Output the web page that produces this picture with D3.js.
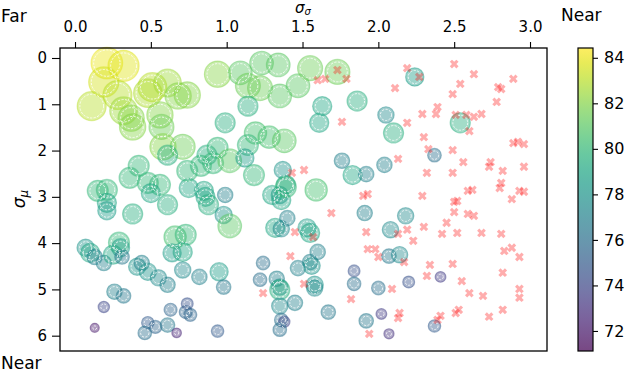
<!DOCTYPE html>
<html>
<head>
<meta charset="utf-8">
<script src="https://cdn.jsdelivr.net/npm/d3@7"></script>
<style>
body{margin:0;background:#fff}
text{font-family:"DejaVu Sans",sans-serif;fill:#000}
</style>
</head>
<body>
<div id="chart"></div>
<script>
// circles: sigma_sigma (x), sigma_mu (y), value (colour + size)
var circX = [0.21,0.32,0.19,0.28,0.11,0.51,0.61,0.48,0.68,0.74,0.32,0.37,0.38,0.56,0.57,0.58,0.71,0.61,0.42,0.36,0.48,0.15,0.21,0.56,0.50,
  0.94,1.09,1.23,1.34,1.14,1.22,1.35,1.47,1.55,1.73,1.14,0.99,1.19,1.28,1.38,1.14,0.87,0.94,0.83,0.91,1.02,1.12,1.18,1.37,1.39,1.35,0.85,0.75,0.99,0.74,1.59,
  1.63,1.61,1.86,2.05,2.10,2.24,1.76,1.83,1.92,2.04,2.54,2.37,
  0.21,0.21,0.38,0.61,0.07,0.10,0.13,0.19,0.25,0.29,0.30,0.31,0.41,0.44,0.48,0.55,0.61,0.66,0.64,0.71,0.73,0.71,0.26,0.32,0.19,0.13,0.48,0.53,0.61,0.46,0.63,0.67,0.73,0.74,0.76,0.82,0.95,0.98,0.94,
  0.86,0.88,0.98,1.02,1.30,1.36,1.39,1.32,1.36,1.40,1.53,1.55,1.24,1.22,1.33,1.35,1.35,1.35,1.45,1.36,1.38,1.35,1.47,1.55,1.56,1.60,1.58,1.58,
  1.91,2.18,2.08,1.84,1.84,2.00,2.07,2.14,2.20,1.67,1.92,2.02,2.07,2.41,2.37]
var circY = [0.11,0.17,0.52,0.80,1.04,0.63,0.54,0.76,0.82,0.80,1.14,1.30,1.49,1.23,1.49,1.92,1.92,2.10,2.33,2.59,2.70,2.87,2.85,2.74,2.92,
  0.35,0.32,0.11,0.15,0.60,0.65,0.82,0.60,0.22,0.30,1.04,1.40,1.62,1.71,1.79,1.88,2.10,1.94,2.33,2.27,2.22,2.16,2.53,2.42,2.74,2.96,2.87,2.81,2.96,2.44,2.85,
  1.04,1.40,0.93,1.23,1.62,0.41,2.22,2.53,2.51,2.31,1.40,2.10,
  3.13,3.30,3.37,3.17,4.10,4.21,4.30,4.43,4.25,3.99,4.10,4.30,4.51,4.43,4.62,4.75,4.90,3.87,4.21,4.58,3.82,4.19,5.05,5.14,5.38,5.83,5.72,5.81,5.77,5.94,5.44,5.94,5.49,5.31,5.55,4.73,4.62,4.95,5.90,
  3.00,3.17,3.39,3.63,2.96,3.07,2.79,3.67,3.69,3.46,3.67,3.78,4.43,4.79,4.77,4.95,5.01,5.36,5.29,5.66,5.70,5.87,4.54,4.41,4.49,4.19,4.90,4.97,
  3.35,3.41,3.71,4.60,4.88,4.97,4.28,4.25,4.84,5.49,5.68,5.53,5.96,4.73,5.79]
var circV = [84,83.8,83.5,83,83,83,82.5,82.8,82,82,82.5,82,82,82,81.5,82,81.5,79.5,80,80,80,80,80,80,79,
  82,81,81,81,81.5,81.5,81,81,81.5,81.5,79.5,79.5,80.5,80.5,81,80,79.5,80,80,80,81,78.5,80,78,79,78,79,79,77,80,80.5,
  79,79,79.5,77.5,79.5,78.5,77,79,77,77,79.5,76,
  79,78.5,79.5,79.5,78,79,77,77,79,80,78.5,76.5,78,77,78,77.5,77,80.5,78.5,77.5,80,79,77,76.5,74,72,75,75.5,76.5,76,75.5,72.5,75.5,74.5,75.5,77,78.5,76.5,75,
  79,79.5,78,81,79,79,80,79,77.5,77,78.5,79,76,76,77,77.5,79.5,77.5,77,76,74,76,77,77,78,77,78,77.5,
  77,77.5,77.5,74.5,76,76,76.5,77.5,74.5,76.5,76.5,73.5,73,73.5,75]

// red crosses
var crossX = [1.60,1.65,1.73,1.79,1.76,1.43,1.51,2.19,2.27,2.11,2.50,2.63,2.54,2.49,2.79,2.81,2.89,2.78,2.39,2.38,2.29,2.51,2.58,2.63,2.68,2.60,2.30,2.33,2.49,2.19,
  2.56,2.74,2.73,2.82,2.89,2.92,2.96,2.96,2.13,2.32,2.49,1.90,1.93,2.29,1.69,2.50,2.52,2.59,2.62,2.81,2.80,2.88,2.93,2.96,2.50,2.59,2.63,2.45,2.30,2.42,
  2.52,2.68,2.81,1.92,2.19,2.23,2.13,1.93,1.98,2.00,2.17,2.34,2.49,2.32,2.55,2.60,2.69,2.83,2.88,2.93,2.82,2.93,2.93,1.82,2.09,2.14,2.13,2.41,2.39,2.53,
  2.51,2.73,2.82,1.94,1.45,1.57,1.42,1.24,1.51]
var crossY = [0.48,0.45,0.26,0.45,1.38,2.48,2.42,0.22,0.41,0.65,0.13,0.35,0.56,0.78,0.63,0.67,0.45,0.95,1.06,1.21,1.21,1.23,1.23,1.27,1.21,1.58,1.71,1.97,1.99,1.40,
  2.25,2.25,2.35,2.44,1.84,1.81,1.86,2.35,2.18,2.48,2.48,2.98,2.94,2.98,3.35,3.11,3.09,2.87,2.85,2.70,2.81,3.05,2.87,2.89,3.33,3.37,3.41,3.56,3.65,3.80,
  3.78,3.78,3.80,3.76,3.71,3.95,3.80,4.13,4.13,4.30,4.41,4.47,4.45,4.71,4.82,5.08,5.14,4.17,4.10,4.30,4.64,4.99,5.18,5.21,4.99,5.51,5.62,5.57,5.66,5.44,
  5.51,5.59,5.44,5.96,3.76,3.87,4.28,5.08,4.88]

var xTicks = [0,0.5,1,1.5,2,2.5,3]
var yTicks = [0,1,2,3,4,5,6]
var cTicks = [72,74,76,78,80,82,84]

var width = 628
var height = 374
var margin = {top:48,right:81,bottom:23,left:60}

var svg = d3.select('#chart')
			.append('svg')
			.attr('width',width)
			.attr('height',height)

var x = d3.scaleLinear().domain([-0.099,3.112]).range([margin.left,width-margin.right])
var y = d3.scaleLinear().domain([-0.216,6.331]).range([margin.top,height-margin.bottom])
var color = d3.scaleSequential(d3.interpolateViridis).domain([71.12,84.43])
var radius = d3.scaleLinear().domain([72,76,80,84]).range([4.5,6.8,10.5,15.8])

var pts = circX.map(function(d,i){ return {x:d, y:circY[i], v:circV[i]} })
var crosses = crossX.map(function(d,i){ return {x:d, y:crossY[i]} })

var plot = svg.append('g')

plot.selectAll('circle.dot')
	.data(pts)
	.enter()
	.append('circle')
	.attr('class','dot')
	.attr('cx',function(d){ return x(d.x) })
	.attr('cy',function(d){ return y(d.y) })
	.attr('r',function(d){ return radius(d.v) })
	.attr('fill',function(d){ return color(d.v) })
	.attr('fill-opacity',0.43)
	.attr('stroke',function(d){ return color(d.v) })
	.attr('stroke-opacity',0.45)
	.attr('stroke-width',1.2)

// white dashed inner rings
plot.selectAll('circle.ring')
	.data(pts)
	.enter()
	.append('circle')
	.attr('class','ring')
	.attr('cx',function(d){ return x(d.x) })
	.attr('cy',function(d){ return y(d.y) })
	.attr('r',function(d){ return Math.max(radius(d.v)-2.6,1.5) })
	.attr('fill','none')
	.attr('stroke','#fff')
	.attr('stroke-opacity',0.9)
	.attr('stroke-width',0.9)
	.attr('stroke-dasharray','2.2,1.4')

plot.selectAll('path.cross')
	.data(crosses)
	.enter()
	.append('path')
	.attr('class','cross')
	.attr('d',d3.symbol().type(d3.symbolCross).size(48))
	.attr('transform',function(d){ return 'translate('+x(d.x)+','+y(d.y)+') rotate(45)' })
	.attr('fill','#ff0000')
	.attr('fill-opacity',0.32)

// frame
svg.append('rect')
	.attr('x',margin.left)
	.attr('y',margin.top)
	.attr('width',width-margin.right-margin.left)
	.attr('height',height-margin.bottom-margin.top)
	.attr('fill','none')
	.attr('stroke','#000')
	.attr('stroke-width',1.3)

var xAxis = svg.append('g')
	.attr('transform','translate(0,'+margin.top+')')
	.call(d3.axisTop(x).tickValues(xTicks).tickFormat(d3.format('.1f')).tickSize(6).tickPadding(10))
var yAxis = svg.append('g')
	.attr('transform','translate('+margin.left+',0)')
	.call(d3.axisLeft(y).tickValues(yTicks).tickFormat(d3.format('d')).tickSize(8).tickPadding(5))

svg.selectAll('.domain').remove()
svg.selectAll('.tick line').attr('stroke','#000').attr('stroke-width',1.1)
svg.selectAll('.tick text').attr('font-size',15).attr('font-family','DejaVu Sans')

// colour bar
var cbX = 578, cbW = 15
var cy = d3.scaleLinear().domain([71.12,84.43]).range([height-margin.bottom,margin.top])
var defs = svg.append('defs')
var grad = defs.append('linearGradient').attr('id','vir').attr('x1',0).attr('y1',1).attr('x2',0).attr('y2',0)
d3.range(0,1.0001,0.05).forEach(function(t){
	grad.append('stop').attr('offset',t).attr('stop-color',d3.interpolateViridis(t))
})
svg.append('rect')
	.attr('x',cbX).attr('y',margin.top)
	.attr('width',cbW).attr('height',height-margin.bottom-margin.top)
	.attr('fill','url(#vir)').attr('fill-opacity',0.72)
svg.append('rect')
	.attr('x',cbX).attr('y',margin.top)
	.attr('width',cbW).attr('height',height-margin.bottom-margin.top)
	.attr('fill','none').attr('stroke','#000').attr('stroke-width',1.2)
var cAxis = svg.append('g')
	.attr('transform','translate('+(cbX+cbW)+',0)')
	.call(d3.axisRight(cy).tickValues(cTicks).tickFormat(d3.format('d')).tickSize(5).tickPadding(6))
cAxis.select('.domain').remove()
cAxis.selectAll('.tick line').attr('stroke','#000').attr('stroke-width',1.1)
cAxis.selectAll('.tick text').attr('font-size',16)

// labels
svg.append('text').attr('x',1).attr('y',22).attr('font-size',17).text('Far')
svg.append('text').attr('x',1).attr('y',369).attr('font-size',17).text('Near')
svg.append('text').attr('x',561).attr('y',21).attr('font-size',17).text('Near')

var xl = svg.append('text').attr('x',303).attr('y',13).attr('text-anchor','middle').attr('font-size',15)
xl.append('tspan').attr('font-style','italic').text('σ')
xl.append('tspan').attr('font-style','italic').attr('font-size',10).attr('dy',2).text('σ')

var yl = svg.append('text').attr('transform','translate(25,199) rotate(-90)').attr('text-anchor','middle').attr('font-size',17)
yl.append('tspan').attr('font-style','italic').text('σ')
yl.append('tspan').attr('font-style','italic').attr('font-size',12).attr('dy',3).text('μ')
</script>
</body>
</html>
